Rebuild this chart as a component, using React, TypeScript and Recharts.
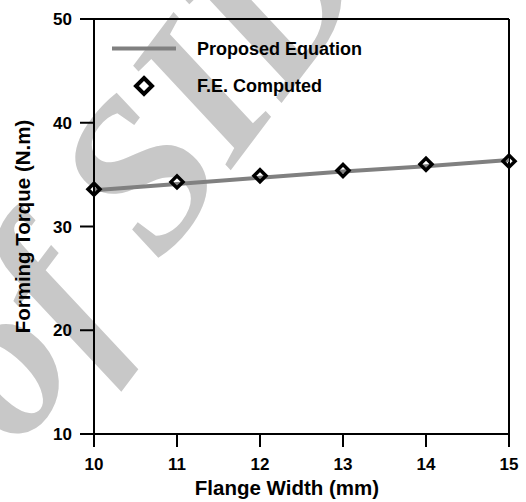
import { ComposedChart, Line, Scatter, XAxis, YAxis, ReferenceLine, Legend } from 'recharts';

// values
const flangeWidths = [10, 11, 12, 13, 14, 15];
const proposedTorque = [33.5, 34.1, 34.7, 35.3, 35.8, 36.4];
const computedTorque = [33.6, 34.3, 34.9, 35.4, 36.0, 36.3];
const xTicks = [10, 11, 12, 13, 14, 15];
const yTicks = [10, 20, 30, 40, 50];

const data = flangeWidths.map((w, i) => ({
    width: w,
    proposed: proposedTorque[i],
    computed: computedTorque[i],
}));

const FONT = '"Liberation Sans", Arial, sans-serif';

const Diamond = (props: any) => {
    const { cx, cy } = props;
    const r = 6;
    return (
        <path
            d={`M${cx},${cy - r}L${cx + r},${cy}L${cx},${cy + r}L${cx - r},${cy}Z`}
            fill="none"
            stroke="#000"
            strokeWidth={3.5}
        />
    );
};

const renderLegend = () => (
    <svg width={300} height={75} style={{ display: 'block' }}>
        <line x1={12} x2={76} y1={18.5} y2={18.5} stroke="#808080" strokeWidth={4} />
        <text x={97} y={25} fontFamily={FONT} fontWeight="bold" fontSize={18} fill="#000">
            Proposed Equation
        </text>
        <path d="M44,48L52,56L44,64L36,56Z" fill="#fff" stroke="#000" strokeWidth={4} />
        <text x={97} y={62} fontFamily={FONT} fontWeight="bold" fontSize={18} fill="#000">
            F.E. Computed
        </text>
    </svg>
);

export default function App() {
    return (
        <div style={{ position: 'absolute', left: 0, top: 0, width: 526, height: 502, background: '#fff' }}>
            {/* faint watermark behind the chart */}
            <svg width={526} height={502} style={{ position: 'absolute', left: 0, top: 0 }}>
                <text
                    x={0}
                    y={0}
                    transform="translate(20,450) rotate(-53)"
                    fontFamily='"Liberation Serif", "DejaVu Serif", serif'
                    fontStyle="italic"
                    fontWeight="bold"
                    fontSize={215}
                    fill="#c8c8c8"
                >
                    of SID
                </text>
            </svg>
            <div style={{ position: 'absolute', left: 0, top: 0 }}>
                <ComposedChart width={526} height={502} data={data} margin={{ top: 19, right: 17, bottom: 0, left: 0 }}>
                    <XAxis
                        dataKey="width"
                        type="number"
                        domain={[10, 15]}
                        ticks={xTicks}
                        height={68}
                        tickSize={13}
                        tickMargin={11}
                        axisLine={{ stroke: '#000', strokeWidth: 2 }}
                        tickLine={{ stroke: '#000', strokeWidth: 2 }}
                        tick={{ fill: '#000', fontSize: 17, fontWeight: 'bold', fontFamily: FONT }}
                        label={{
                            content: () => (
                                <text x={287} y={495} textAnchor="middle" fontFamily={FONT} fontWeight="bold" fontSize={20.5} fill="#000">
                                    Flange Width (mm)
                                </text>
                            ),
                        }}
                    />
                    <YAxis
                        type="number"
                        domain={[10, 50]}
                        ticks={yTicks}
                        width={94}
                        tickSize={14}
                        tickMargin={8}
                        axisLine={{ stroke: '#000', strokeWidth: 2 }}
                        tickLine={{ stroke: '#000', strokeWidth: 2 }}
                        tick={{ fill: '#000', fontSize: 17, fontWeight: 'bold', fontFamily: FONT }}
                        label={{
                            content: () => (
                                <text
                                    transform="rotate(-90)"
                                    x={-226.5}
                                    y={30}
                                    textAnchor="middle"
                                    fontFamily={FONT}
                                    fontWeight="bold"
                                    fontSize={20.5}
                                    fill="#000"
                                >
                                    Forming Torque (N.m)
                                </text>
                            ),
                        }}
                    />
                    <ReferenceLine y={50} stroke="#000" strokeWidth={2} />
                    <ReferenceLine x={15} stroke="#000" strokeWidth={2} />
                    <Legend
                        layout="horizontal"
                        verticalAlign="middle"
                        align="center"
                        content={renderLegend}
                        wrapperStyle={{ position: 'absolute', left: 100, top: 30, width: 300, height: 75 }}
                    />
                    <Line
                        dataKey="proposed"
                        name="Proposed Equation"
                        stroke="#808080"
                        strokeWidth={4}
                        dot={false}
                        activeDot={false}
                        isAnimationActive={false}
                    />
                    <Scatter
                        dataKey="computed"
                        name="F.E. Computed"
                        shape={Diamond}
                        isAnimationActive={false}
                    />
                </ComposedChart>
            </div>
        </div>
    );
}
